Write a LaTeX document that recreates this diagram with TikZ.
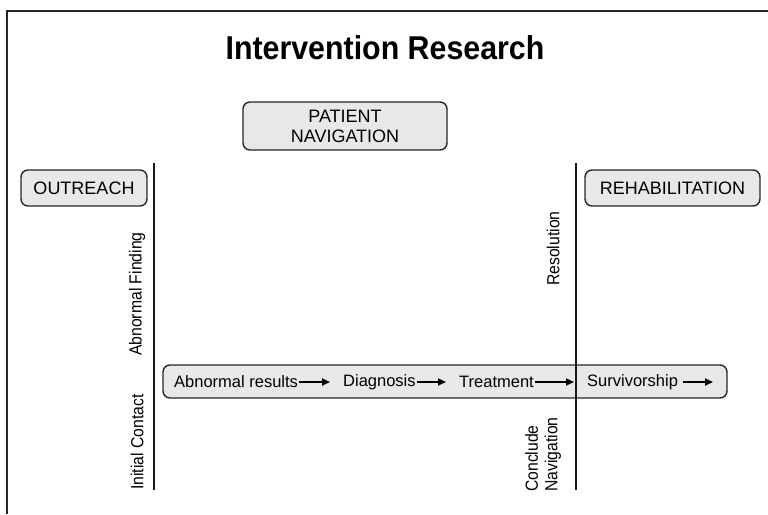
\documentclass[tikz,border=0pt]{standalone}
\usepackage{fontspec}
\setmainfont{Liberation Sans}
\newfontfamily\narrowfont[FakeStretch=0.9]{Liberation Sans}
\newfontfamily\titlefont[FakeStretch=0.92]{Liberation Sans}
\usetikzlibrary{positioning,arrows.meta}

\begin{document}
\begin{tikzpicture}[x=1pt,y=-1pt,
    stage/.style={draw=black!85, line width=1.4pt, rounded corners=7pt, fill=black!9,
      font=\fontsize{18}{20}\selectfont, align=center, inner sep=0pt},
    phase/.style={rotate=90, anchor=west, inner sep=0pt, align=left,
      font=\narrowfont\fontsize{17.5}{19.5}\selectfont},
    event/.style={anchor=west, inner sep=1pt, font=\fontsize{16.5}{18}\selectfont},
    flow/.style={-{Triangle[length=8pt,width=7pt]}, line width=1.8pt, shorten >=12pt},
    divider/.style={line width=1.4pt, black!90}]
    \useasboundingbox (0,0) rectangle (768,514);
    \draw[line width=1.3pt, black!85] (7,514) -- (7,11) -- (768,11);

    % title and the three stages
    \node[font=\titlefont\bfseries\fontsize{33}{36}\selectfont] (title) at (385,48) {Intervention Research};
    \node[stage, minimum width=204pt, minimum height=48pt] (nav) at (345,126) {PATIENT\\NAVIGATION};
    \node[stage, minimum width=126pt, minimum height=36pt] (outreach) at (84,188) {OUTREACH};
    \node[stage, minimum width=175pt, minimum height=36pt] (rehab) at (672.5,188) {REHABILITATION};

    % the care track
    \node[stage, minimum width=564pt, minimum height=33pt] (track) at (445,381.5) {};
    \node[event] (results) at (173,382) {Abnormal results};
    \node[event] (diagnosis) at (342,382) {Diagnosis};
    \node[event] (treatment) at (458,382) {Treatment};
    \node[event] (survivor) at (586,382) {Survivorship};
    \coordinate (beyond) at (727,382);
    \draw[flow] (results) -- (diagnosis);
    \draw[flow] (diagnosis) -- (treatment);
    \draw[flow] (treatment) -- (survivor);
    \draw[flow, shorten <=4pt, shorten >=14pt] (survivor) -- (beyond);

    % boundaries of navigation
    \draw[divider] (154,163) -- (154,490);
    \draw[divider] (576,163) -- (576,490);
    \node[phase] (finding) at (137,356) {Abnormal Finding};
    \node[phase] (contact) at (137,490) {Initial Contact};
    \node[phase] (resolution) at (553,286) {Resolution};
    \node[phase] (conclude) at (543,492) {Conclude\\Navigation};
\end{tikzpicture}
\end{document}
